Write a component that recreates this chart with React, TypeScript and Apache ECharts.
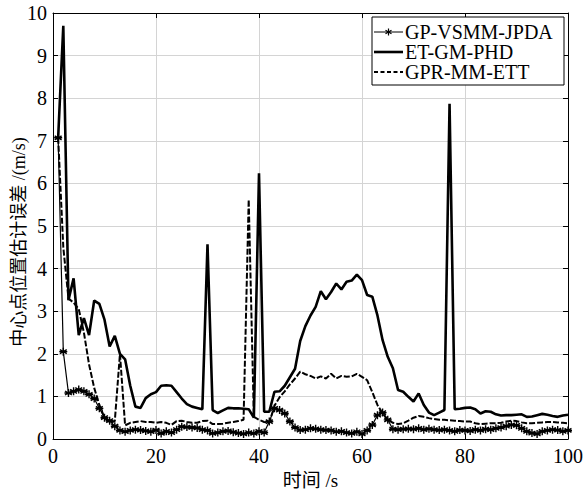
import React, { useEffect, useRef } from "react";
import * as echarts from "echarts";

const xTicks = [0, 20, 40, 60, 80, 100];
const seriesNames = ["GP-VSMM-JPDA", "ET-GM-PHD", "GPR-MM-ETT"];
const yName = "中心点位置估计误差 /(m/s)";
const xName = "时间 /s";

// time in s: 1..100 (one sample per second)
const gpVsmm = [
  7.07, 2.05, 1.08, 1.12, 1.16, 1.12, 1.05, 0.95, 0.72, 0.5,
  0.43, 0.3, 0.2, 0.17, 0.2, 0.22, 0.21, 0.19, 0.17, 0.21,
  0.13, 0.18, 0.15, 0.22, 0.29, 0.28, 0.27, 0.26, 0.22, 0.2,
  0.13, 0.15, 0.18, 0.19, 0.16, 0.14, 0.12, 0.15, 0.13, 0.18,
  0.15, 0.41, 0.72, 0.68, 0.6, 0.41, 0.27, 0.21, 0.22, 0.25,
  0.24, 0.22, 0.21, 0.2, 0.17, 0.18, 0.15, 0.13, 0.17, 0.12,
  0.2, 0.33, 0.56, 0.62, 0.45, 0.23, 0.22, 0.23, 0.24, 0.23,
  0.25, 0.22, 0.24, 0.22, 0.21, 0.22, 0.2, 0.18, 0.21, 0.2,
  0.19, 0.22, 0.2, 0.23, 0.22, 0.25, 0.27, 0.3, 0.33, 0.32,
  0.25, 0.18, 0.14, 0.12, 0.18, 0.2, 0.22, 0.21, 0.18, 0.2,
];

const etGmPhd = [
  7.07, 9.7, 3.26, 3.77, 2.44, 2.84, 2.44, 3.25, 3.17, 2.8,
  2.17, 2.42, 2.0, 1.87, 1.25, 0.76, 0.73, 0.96, 1.05, 1.1,
  1.25, 1.26, 1.25, 1.1, 0.95, 0.82, 0.76, 0.73, 0.7, 4.57,
  0.68, 0.61, 0.67, 0.73, 0.72, 0.72, 0.71, 0.7, 0.5, 6.24,
  0.64, 0.64, 1.11, 1.12, 1.25, 1.45, 1.65, 2.3, 2.65, 2.9,
  3.1, 3.47, 3.28, 3.45, 3.65, 3.51, 3.69, 3.72, 3.86, 3.73,
  3.38, 3.34, 2.9, 2.32, 1.93, 1.66, 1.15, 1.11, 0.99, 0.88,
  1.07, 0.8, 0.62, 0.56, 0.62, 0.68, 7.87, 0.7, 0.71, 0.73,
  0.74, 0.7, 0.6, 0.65, 0.64, 0.58, 0.55, 0.56, 0.56, 0.57,
  0.58, 0.52, 0.53, 0.56, 0.59, 0.57, 0.54, 0.52, 0.55, 0.57,
];

const gprMmEtt = [
  7.07, 4.5, 3.3, 3.2, 3.05, 2.5, 1.75, 1.2, 0.8, 0.5,
  0.38, 0.42, 2.0, 0.32, 0.38, 0.4, 0.42, 0.4, 0.4, 0.38,
  0.4, 0.38, 0.33, 0.42, 0.43, 0.4, 0.38, 0.38, 0.42, 0.43,
  0.35, 0.35, 0.36, 0.38, 0.4, 0.42, 0.45, 5.62, 0.52, 0.45,
  0.4, 0.38, 0.78, 0.98, 1.12, 1.28, 1.42, 1.58, 1.52, 1.48,
  1.42, 1.47, 1.42, 1.53, 1.42, 1.48, 1.46, 1.47, 1.53, 1.46,
  1.38, 1.1, 0.8, 0.6, 0.46, 0.38, 0.35, 0.37, 0.43, 0.5,
  0.54, 0.52, 0.49, 0.47, 0.45, 0.45, 0.44, 0.43, 0.42, 0.41,
  0.41, 0.37, 0.35, 0.36, 0.37, 0.37, 0.38, 0.41, 0.43, 0.42,
  0.39, 0.37, 0.37, 0.38, 0.39, 0.4, 0.4, 0.39, 0.38, 0.37,
];

const toPairs = (vals: number[]) => vals.map((v, i) => [i + 1, v]);

const FONT = "'Liberation Serif', 'Times New Roman', 'Noto Sans CJK SC', serif";
const STAR = "path://M0,-5L0,5M-4.33,-2.5L4.33,2.5M-4.33,2.5L4.33,-2.5M-5,0L5,0";

export default function App() {
  const ref = useRef<HTMLDivElement>(null);
  useEffect(() => {
    if (!ref.current) return;
    const chart = echarts.init(ref.current, undefined, { renderer: "svg" });
    const gridColor = "#d4d4d4";
    const lx = 372;
    const ly = 17;
    const option: any = {
      animation: false,
      backgroundColor: "#fff",
      grid: { left: 53, right: 16, top: 13, bottom: 53, containLabel: false, outerBoundsMode: "none" },
      xAxis: [
        {
          type: "value",
          min: 0,
          max: 100,
          interval: 20,
          name: xName,
          nameLocation: "middle",
          nameGap: 31,
          nameTextStyle: { fontFamily: FONT, fontSize: 19, color: "#000" },
          axisLine: { show: true, onZero: false, lineStyle: { color: "#000", width: 1 } },
          axisTick: { show: true, inside: true, length: 5, lineStyle: { color: "#000" } },
          axisLabel: {
            fontFamily: FONT,
            fontSize: 20,
            color: "#000",
            margin: 7,
            formatter: (v: number) => (xTicks.includes(v) ? String(v) : ""),
          },
          splitLine: { show: true, lineStyle: { color: gridColor, width: 1 } },
        },
        {
          type: "value",
          position: "top",
          min: 0,
          max: 100,
          interval: 20,
          axisLine: { show: true, onZero: false, lineStyle: { color: "#000", width: 1 } },
          axisTick: { show: true, inside: true, length: 5, lineStyle: { color: "#000" } },
          axisLabel: { show: false },
          splitLine: { show: false },
        },
      ],
      yAxis: [
        {
          type: "value",
          min: 0,
          max: 10,
          interval: 1,
          axisLine: { show: true, onZero: false, lineStyle: { color: "#000", width: 1 } },
          axisTick: { show: true, inside: true, length: 5, lineStyle: { color: "#000" } },
          axisLabel: { fontFamily: FONT, fontSize: 20, color: "#000", margin: 6 },
          splitLine: { show: true, lineStyle: { color: gridColor, width: 1 } },
        },
        {
          type: "value",
          position: "right",
          min: 0,
          max: 10,
          interval: 1,
          axisLine: { show: true, onZero: false, lineStyle: { color: "#000", width: 1 } },
          axisTick: { show: true, inside: true, length: 5, lineStyle: { color: "#000" } },
          axisLabel: { show: false },
          splitLine: { show: false },
        },
      ],
      series: [
        {
          name: seriesNames[1],
          type: "line",
          data: toPairs(etGmPhd),
          showSymbol: false,
          symbol: "none",
          lineStyle: { color: "#000", width: 2.6 },
          z: 3,
        },
        {
          name: seriesNames[2],
          type: "line",
          data: toPairs(gprMmEtt),
          showSymbol: false,
          symbol: "none",
          lineStyle: { color: "#000", width: 2, type: [6, 2] },
          z: 4,
        },
        {
          name: seriesNames[0],
          type: "line",
          data: toPairs(gpVsmm),
          symbol: STAR,
          symbolSize: 8,
          showSymbol: true,
          showAllSymbol: true,
          itemStyle: { color: "none", borderColor: "#000", borderWidth: 1.4 },
          lineStyle: { color: "#000", width: 1.2 },
          z: 5,
        },
      ],
      graphic: [
        {
          type: "text",
          x: 19,
          y: 242,
          rotation: Math.PI / 2,
          style: { text: yName, font: `18px ${FONT}`, fill: "#000", align: "center", verticalAlign: "middle" },
          z: 50,
        },
        {
          type: "rect",
          shape: { x: lx, y: ly, width: 192, height: 68 },
          style: { fill: "#fff", stroke: "#000", lineWidth: 1 },
          z: 100,
        },
        {
          type: "line",
          shape: { x1: lx + 2, y1: 32, x2: lx + 31, y2: 32 },
          style: { stroke: "#000", lineWidth: 1 },
          z: 101,
        },
        {
          type: "line",
          shape: { x1: lx + 16.5, y1: 28.5, x2: lx + 16.5, y2: 35.5 },
          style: { stroke: "#000", lineWidth: 1.2 },
          z: 101,
        },
        {
          type: "line",
          shape: { x1: lx + 13.5, y1: 30.2, x2: lx + 19.5, y2: 33.8 },
          style: { stroke: "#000", lineWidth: 1.2 },
          z: 101,
        },
        {
          type: "line",
          shape: { x1: lx + 13.5, y1: 33.8, x2: lx + 19.5, y2: 30.2 },
          style: { stroke: "#000", lineWidth: 1.2 },
          z: 101,
        },
        {
          type: "line",
          shape: { x1: lx + 2, y1: 52, x2: lx + 31, y2: 52 },
          style: { stroke: "#000", lineWidth: 2.6 },
          z: 101,
        },
        {
          type: "line",
          shape: { x1: lx + 2, y1: 72, x2: lx + 31, y2: 72 },
          style: { stroke: "#000", lineWidth: 2, lineDash: [4, 2.5] },
          z: 101,
        },
        {
          type: "text",
          x: lx + 33,
          y: 32,
          style: { text: seriesNames[0], font: `20px ${FONT}`, fill: "#000", verticalAlign: "middle" },
          z: 101,
        },
        {
          type: "text",
          x: lx + 33,
          y: 52,
          style: { text: seriesNames[1], font: `20px ${FONT}`, fill: "#000", verticalAlign: "middle" },
          z: 101,
        },
        {
          type: "text",
          x: lx + 33,
          y: 72,
          style: { text: seriesNames[2], font: `20px ${FONT}`, fill: "#000", verticalAlign: "middle" },
          z: 101,
        },
      ],
    };
    chart.setOption(option);
    return () => chart.dispose();
  }, []);
  return <div ref={ref} style={{ width: 584, height: 492, position: "absolute", left: 0, top: 0 }} />;
}
